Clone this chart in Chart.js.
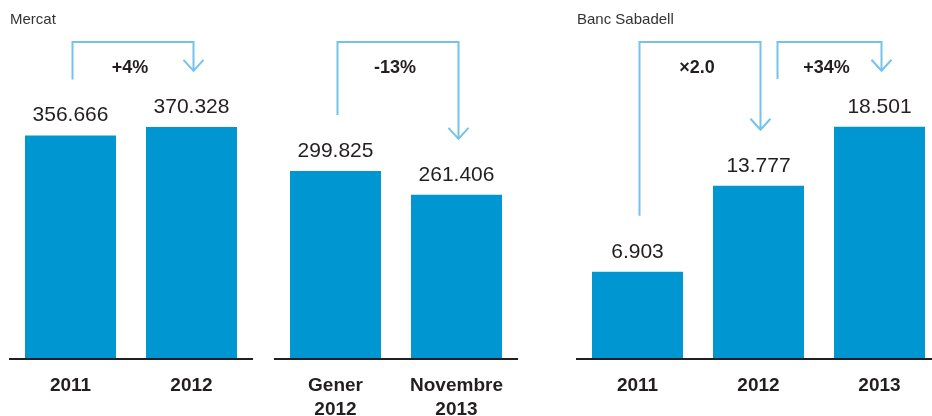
<!DOCTYPE html>
<html>
<head>
<meta charset="utf-8">
<script src="https://cdn.jsdelivr.net/npm/chart.js@4.4.0/dist/chart.umd.min.js"></script>
<style>
  html, body { margin: 0; padding: 0; background: #fff; }
  body { width: 932px; height: 416px; overflow: hidden; position: relative; }
  .panel { position: absolute; top: 0; height: 416px; }
</style>
</head>
<body>
<div class="panel" style="left:0;width:262px"><canvas id="mercatAnual"></canvas></div>
<div class="panel" style="left:265px;width:262px"><canvas id="mercatMensual"></canvas></div>
<div class="panel" style="left:567px;width:383px"><canvas id="sabadell"></canvas></div>

<script>
// Dades
const mercatAnys = ['2011', '2012'];
const mercatAnual = [356666, 370328];

const mercatMesos = [['Gener', '2012'], ['Novembre', '2013']];
const mercatMensual = [299825, 261406];

const sabadellAnys = ['2011', '2012', '2013'];
const sabadellValors = [6903, 13777, 18501];

const variacioMercatAnual = ['+4%'];
const variacioMercatMensual = ['-13%'];
const variacioSabadell = ['×2.0', '+34%'];

const BLAU = '#0096d2';
const BLAU_CLAR = '#74c3ea';
const TEXT = '#231f20';
const FONT = "'Liberation Sans', Arial, sans-serif";

function milers(v) {
    return String(v).replace(/\B(?=(\d{3})+(?!\d))/g, '.');
}

// línia de base, valors, títol i fletxes de variació
const etiquetes = {
    id: 'etiquetes',
    beforeDatasetsDraw(chart) {
        const { ctx, chartArea } = chart;
        ctx.save();
        ctx.fillStyle = TEXT;
        ctx.fillRect(chartArea.left - 1, chartArea.bottom, chartArea.width + 2, 2);
        ctx.restore();
    },
    afterDatasetsDraw(chart, args, opts) {
        const ctx = chart.ctx;
        const bars = chart.getDatasetMeta(0).data;
        const valors = chart.data.datasets[0].data;
        ctx.save();

        if (opts.titol) {
            ctx.fillStyle = '#333';
            ctx.font = '15px ' + FONT;
            ctx.textAlign = 'left';
            ctx.textBaseline = 'middle';
            ctx.fillText(opts.titol, chart.chartArea.left, 20);
        }

        ctx.fillStyle = TEXT;
        ctx.font = '21px ' + FONT;
        ctx.textAlign = 'center';
        ctx.textBaseline = 'middle';
        bars.forEach((bar, i) => {
            ctx.fillText(milers(valors[i]), bar.x, bar.y - 20);
        });

        const dalt = 42;
        (opts.fletxes || []).forEach(f => {
            const a = bars[f.de], b = bars[f.a];
            const x1 = a.x + (f.despl || 2);
            const x2 = b.x + 2;
            const y1 = f.curt ? dalt + f.curt : a.y - 56;
            const y2 = b.y - 56;

            ctx.strokeStyle = BLAU_CLAR;
            ctx.lineWidth = 2;
            ctx.lineJoin = 'miter';
            ctx.beginPath();
            ctx.moveTo(x1, y1);
            ctx.lineTo(x1, dalt);
            ctx.lineTo(x2, dalt);
            ctx.lineTo(x2, y2);
            ctx.stroke();
            ctx.beginPath();
            ctx.moveTo(x2 - 10, y2 - 11);
            ctx.lineTo(x2, y2);
            ctx.lineTo(x2 + 10, y2 - 11);
            ctx.stroke();

            ctx.fillStyle = TEXT;
            ctx.font = 'bold 18px ' + FONT;
            ctx.fillText(f.text, (x1 + x2) / 2 - 3, 68);
        });
        ctx.restore();
    }
};

function grafic(id, labels, data, max, titol, fletxes) {
    return new Chart(document.getElementById(id), {
        type: 'bar',
        data: {
            labels: labels,
            datasets: [{
                data: data,
                backgroundColor: BLAU,
                barPercentage: 0.752,
                categoryPercentage: 1
            }]
        },
        options: {
            responsive: true,
            maintainAspectRatio: false,
            animation: false,
            layout: { padding: { left: 10, right: 10, top: 16, bottom: 0 } },
            plugins: {
                legend: { display: false },
                tooltip: { enabled: false },
                etiquetes: { titol: titol, fletxes: fletxes }
            },
            scales: {
                x: {
                    grid: { display: false, drawTicks: false },
                    border: { display: false },
                    ticks: {
                        color: TEXT,
                        font: { family: FONT, size: 19, weight: 'bold', lineHeight: 1.25 },
                        padding: 16,
                        maxRotation: 0,
                        autoSkip: false
                    },
                    afterFit(scale) { scale.height = 58; }
                },
                y: {
                    display: false,
                    min: 0,
                    max: max
                }
            }
        },
        plugins: [etiquetes]
    });
}

grafic('mercatAnual', mercatAnys, mercatAnual, 548000, 'Mercat', [
    { de: 0, a: 1, text: variacioMercatAnual[0] }
]);
grafic('mercatMensual', mercatMesos, mercatMensual, 548000, '', [
    { de: 0, a: 1, text: variacioMercatMensual[0] }
]);
grafic('sabadell', sabadellAnys, sabadellValors, 27360, 'Banc Sabadell', [
    { de: 0, a: 1, text: variacioSabadell[0] },
    { de: 1, a: 2, text: variacioSabadell[1], despl: 19, curt: 37 }
]);
</script>
</body>
</html>
